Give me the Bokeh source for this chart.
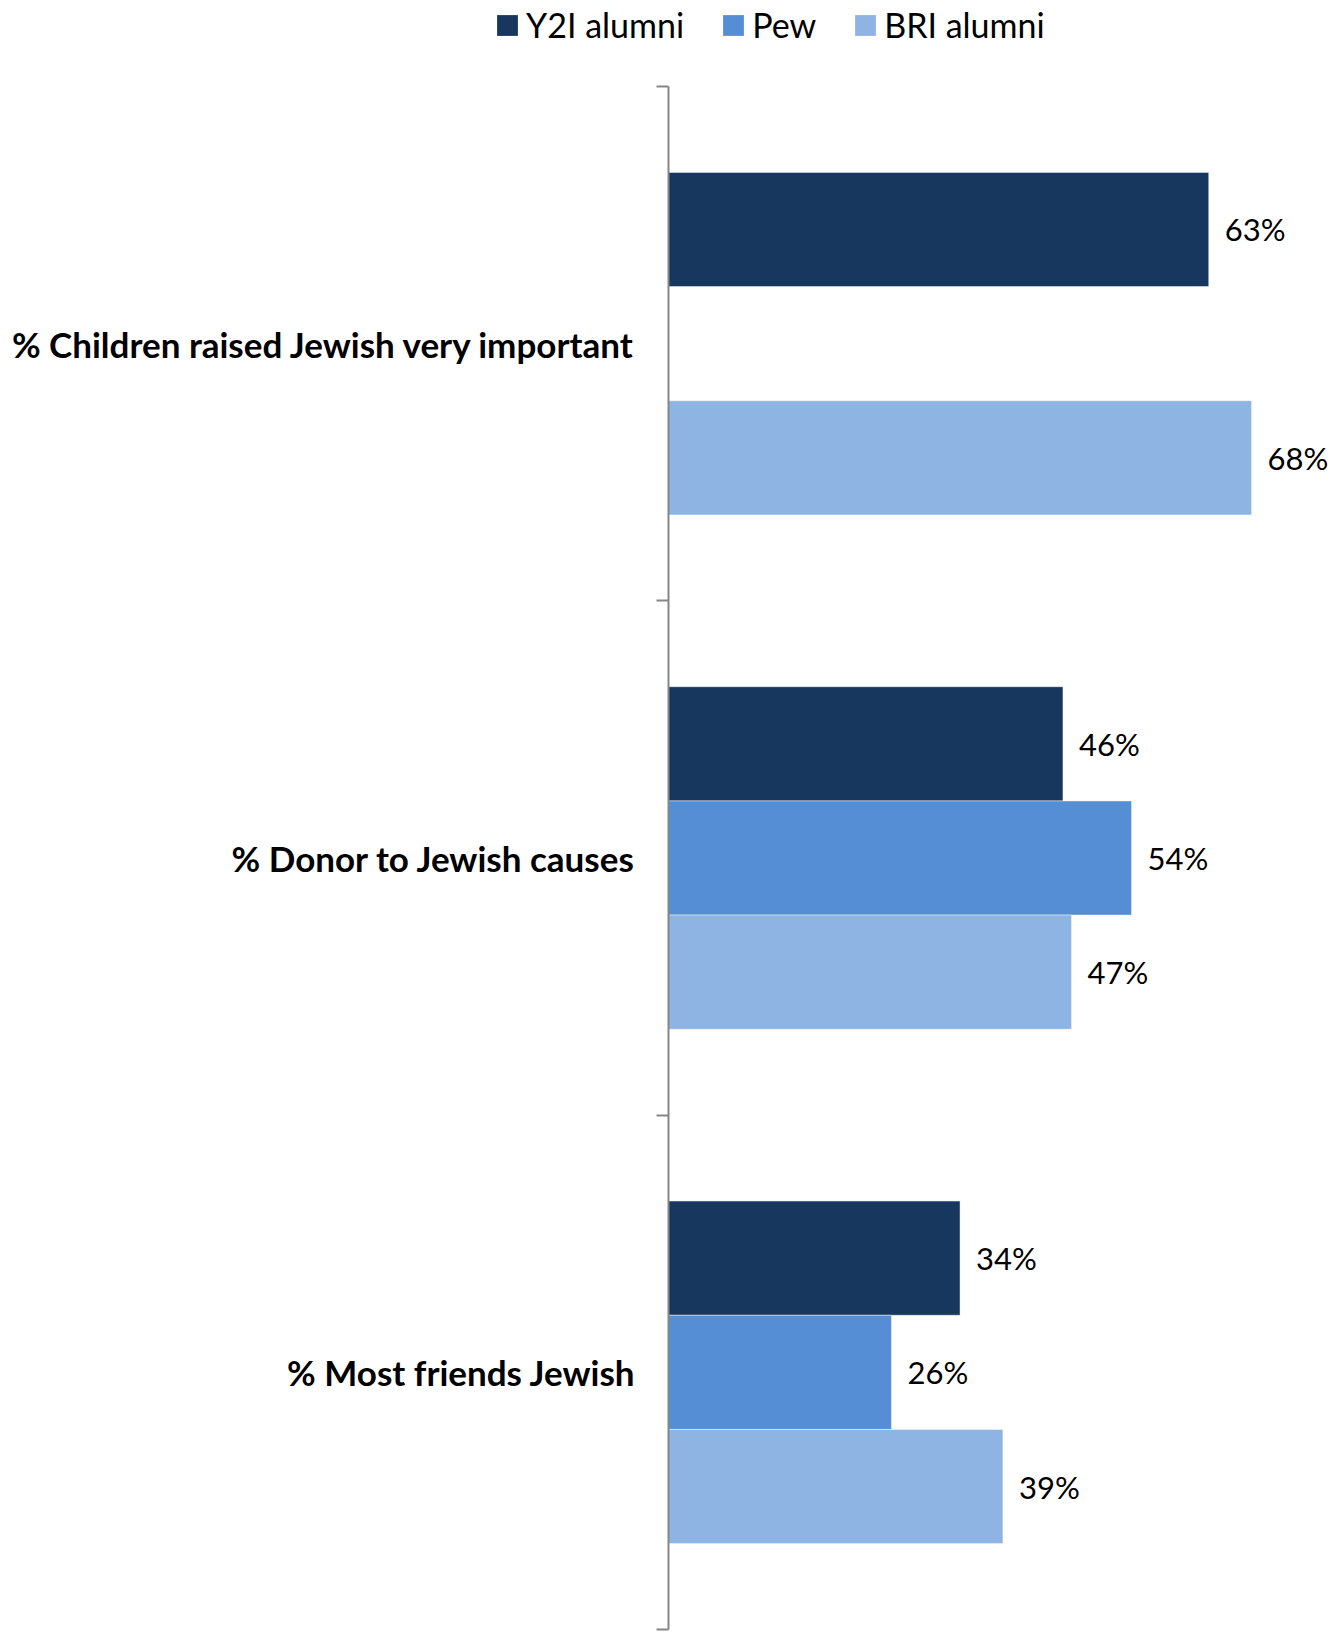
import math
from bokeh.plotting import figure
from bokeh.models import (Range1d, FixedTicker, LinearAxis, Legend, LegendItem,
                          ColumnDataSource, LabelSet)
from bokeh.core.properties import value
from bokeh.embed import file_html
from bokeh.resources import INLINE

categories = ["% Children raised Jewish very important",
              "% Donor to Jewish causes",
              "% Most friends Jewish"]
series = ["Y2I alumni", "Pew", "BRI alumni"]
y2i = [63, 46, 34]
pew = [float("nan"), 54, 26]
bri = [68, 47, 39]
colors = ["#17375E", "#558ED5", "#8EB4E3"]

FONT = "Lato"
BAR_H = 0.222
idx = list(range(len(categories)))

# ---- legend strip (separate root, so its frame spans the full width) ----
lg = figure(width=1336, height=60, output_backend="svg", toolbar_location=None,
            x_range=Range1d(0, 1), y_range=Range1d(0, 1),
            min_border_left=0, min_border_right=0, min_border_top=0, min_border_bottom=0,
            x_axis_location=None, y_axis_location=None)
lg.outline_line_color = None
lg.xgrid.visible = False
lg.ygrid.visible = False
lg_rs = [lg.hbar(y=idx, right=vals, left=0, height=BAR_H, fill_color=c,
                 line_color=None, visible=False)
         for vals, c in zip([y2i, pew, bri], colors)]
legend = Legend(items=[LegendItem(label=s, renderers=[r]) for s, r in zip(series, lg_rs)],
                orientation="horizontal", location=(494, 15),
                glyph_width=26, glyph_height=26, label_standoff=6, spacing=36,
                padding=0, margin=0, border_line_color=None, background_fill_alpha=0,
                inactive_fill_alpha=0,
                label_text_font=FONT, label_text_font_size="34px", label_text_color="#000000")
lg.add_layout(legend, "center")

# ---- main chart ----
p = figure(width=1336, height=1575, output_backend="svg", toolbar_location=None,
           x_range=Range1d(0, 77.2), y_range=Range1d(2.5, -0.5),
           min_border_left=668, min_border_right=6, min_border_top=26,
           min_border_bottom=6, x_axis_location=None, y_axis_location=None)
p.outline_line_color = None
p.xgrid.visible = False
p.ygrid.visible = False

for k, (name, vals, col) in enumerate(zip(series, [y2i, pew, bri], colors)):
    off = (k - 1) * BAR_H
    ys = [i + off for i in idx]
    keep = [j for j in idx if not math.isnan(vals[j])]
    src = ColumnDataSource(dict(y=[ys[j] for j in keep], x=[vals[j] for j in keep],
                                lab=[f"{vals[j]:.0f}%" for j in keep]))
    p.hbar(y="y", right="x", left=0, height=BAR_H, source=src,
           fill_color=col, line_color="white", line_alpha=0.45, line_width=1)
    p.add_layout(LabelSet(x="x", y="y", text="lab", source=src, x_offset=16,
                          text_baseline="middle", text_align="left",
                          text_font=value(FONT), text_font_size=value("31px"),
                          text_color="#000000"))

ax = LinearAxis(ticker=FixedTicker(ticks=idx, minor_ticks=[-0.5, 0.5, 1.5, 2.5]))
ax.major_label_overrides = {i: c for i, c in zip(idx, categories)}
ax.major_tick_out = 0
ax.major_tick_in = 0
ax.minor_tick_out = 12
ax.minor_tick_in = 0
ax.minor_tick_line_color = "#868686"
ax.minor_tick_line_width = 2
ax.axis_line_color = "#868686"
ax.axis_line_width = 2
ax.major_label_standoff = 21
ax.major_label_text_font = FONT
ax.major_label_text_font_style = "bold"
ax.major_label_text_font_size = "35px"
ax.major_label_text_color = "#000000"
p.add_layout(ax, "left")

open("out.html", "w").write(file_html([lg, p], INLINE))
